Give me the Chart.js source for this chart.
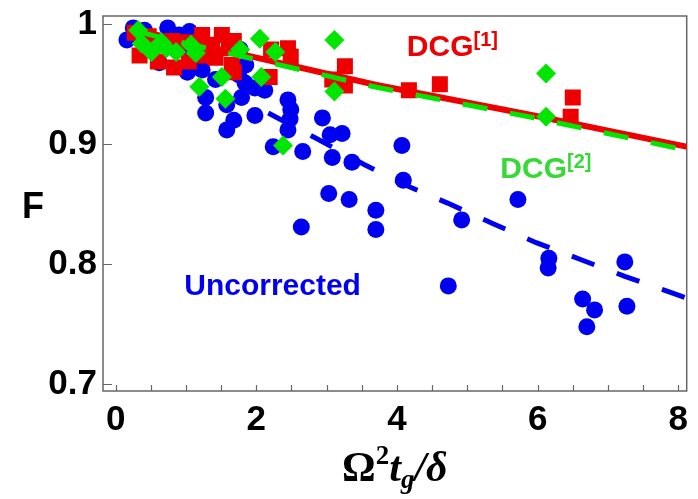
<!DOCTYPE html>
<html>
<head>
<meta charset="utf-8">
<script src="https://cdn.jsdelivr.net/npm/chart.js"></script>
<style>
  html, body { margin: 0; padding: 0; background: #ffffff; }
  #wrap { width: 698px; height: 499px; }
</style>
</head>
<body>
<div id="wrap"><canvas id="fidelityChart" width="698" height="499"></canvas></div>
<script>
// values: x = Omega^2 t_g / delta, y = fidelity F
const uncorrectedX = [0.16, 0.25, 0.34, 0.41, 0.48, 0.62, 0.74, 0.90, 0.97, 1.02, 1.05, 1.09, 1.19, 1.23,
    1.40, 1.42, 1.75, 1.77, 1.84, 1.85, 1.28, 1.28, 1.58, 1.58, 1.68, 1.98, 1.98, 1.79, 2.12, 2.45,
    2.48, 2.49, 2.45, 2.24, 2.66, 2.94, 3.05, 3.22, 3.08, 3.36, 4.07, 4.09, 3.03, 3.32, 3.70, 3.70,
    2.64, 4.92, 5.72, 4.73, 6.16, 6.15, 7.24, 6.64, 6.81, 6.70, 7.27];
const uncorrectedF = [0.987, 0.997, 0.991, 0.995, 0.979, 0.968, 0.997, 0.991, 0.979, 0.960, 0.994, 0.964, 0.987, 0.962,
    0.974, 0.954, 0.958, 0.979, 0.951, 0.966, 0.926, 0.939, 0.933, 0.912, 0.920, 0.924, 0.947, 0.939, 0.945, 0.937,
    0.921, 0.929, 0.912, 0.898, 0.894, 0.922, 0.908, 0.909, 0.889, 0.885, 0.899, 0.870, 0.859, 0.854, 0.845, 0.829,
    0.831, 0.837, 0.854, 0.782, 0.805, 0.797, 0.802, 0.771, 0.762, 0.748, 0.765];

const dcg1X = [0.27, 0.34, 0.47, 0.60, 0.81, 0.83, 1.03, 1.04, 1.23, 1.37, 1.51, 1.42, 1.23, 1.61, 1.65, 1.68,
    1.68, 2.21, 2.19, 2.45, 2.49, 3.26, 3.08, 3.26, 4.17, 4.61, 6.50, 6.47];
const dcg1F = [0.993, 0.974, 0.990, 0.969, 0.986, 0.964, 0.985, 0.969, 0.991, 0.983, 0.991, 0.972, 0.974, 0.980, 0.966, 0.960,
    0.986, 0.979, 0.956, 0.980, 0.973, 0.965, 0.954, 0.949, 0.945, 0.950, 0.939, 0.923];

const dcg2X = [0.32, 0.37, 0.51, 0.65, 0.72, 0.86, 1.07, 1.14, 1.19, 1.51, 1.56, 1.77, 2.05, 2.27, 2.07, 2.38,
    3.11, 3.11, 6.12, 6.12];
const dcg2F = [0.995, 0.984, 0.977, 0.985, 0.980, 0.977, 0.983, 0.976, 0.948, 0.956, 0.938, 0.979, 0.988, 0.977, 0.956, 0.899,
    0.987, 0.944, 0.959, 0.923];

// fitted curves, sampled where they show in the figure
const dcg1FitX = [0.3, 1.0, 3.71, 5.91, 8.2];
const dcg1FitF = [0.995, 0.9855, 0.9494, 0.9244, 0.897];
const dcg2FitX = [0.3, 1.0, 3.71, 5.91, 8.2];
const dcg2FitF = [0.994, 0.984, 0.9475, 0.9225, 0.894];
const uncorrectedFitX = [2.17, 2.85, 3.54, 4.12, 4.72, 5.36, 5.98, 6.61, 7.24, 7.87, 8.2];
const uncorrectedFitF = [0.926, 0.905, 0.883, 0.866, 0.851, 0.834, 0.818, 0.804, 0.790, 0.777, 0.770];

const xTicks = [0, 0.5, 1, 1.5, 2, 2.5, 3, 3.5, 4, 4.5, 5, 5.5, 6, 6.5, 7, 7.5, 8];
const xTickLabels = [0, 2, 4, 6, 8];
const yTicks = [0.7, 0.8, 0.9, 1];

const BLUE = "#0000f0";
const RED = "#ee0000";
const GREEN = "#00e600";
const SANS = "'Liberation Sans', Arial, Helvetica, sans-serif";
const SERIF = "'Liberation Serif', 'Times New Roman', serif";

function toPoints(xs, ys) {
    return xs.map(function (x, i) { return { x: x, y: ys[i] }; });
}

function textRuns(ctx, runs, x, y) {
    let cx = x;
    runs.forEach(function (r) {
        ctx.font = r.font;
        ctx.fillText(r.text, cx, y + (r.dy || 0));
        cx += ctx.measureText(r.text).width;
    });
}

function runsWidth(ctx, runs) {
    let w = 0;
    runs.forEach(function (r) {
        ctx.font = r.font;
        w += ctx.measureText(r.text).width;
    });
    return w;
}

// frame with inward ticks, like the original plot
const frameTicks = {
    id: "frameTicks",
    beforeDatasetsDraw(chart) {
        const { ctx, chartArea: a, scales } = chart;
        ctx.save();
        ctx.strokeStyle = "#666";
        ctx.lineWidth = 1.5;
        ctx.strokeRect(a.left, a.top, a.right - a.left, a.bottom - a.top);
        ctx.lineWidth = 1.2;
        ctx.beginPath();
        xTicks.forEach(function (v) {
            const px = Math.round(scales.x.getPixelForValue(v)) + 0.5;
            ctx.moveTo(px, a.bottom);
            ctx.lineTo(px, a.bottom - 6);
        });
        yTicks.forEach(function (v) {
            const py = Math.round(scales.y.getPixelForValue(v)) + 0.5;
            ctx.moveTo(a.left, py);
            ctx.lineTo(a.left + 9, py);
        });
        ctx.stroke();
        ctx.restore();
    }
};

// labels in the plot, axis titles with super/subscripts
const labels = {
    id: "labels",
    afterDraw(chart) {
        const { ctx, chartArea: a, scales } = chart;
        const xs = scales.x, ys = scales.y;
        ctx.save();
        ctx.textBaseline = "alphabetic";
        ctx.textAlign = "left";

        ctx.fillStyle = "#000";
        ctx.font = "bold 36px " + SANS;
        ctx.fillText("F", 22, 218);

        ctx.fillStyle = RED;
        textRuns(ctx, [
            { text: "DCG", font: "bold 30px " + SANS },
            { text: "[1]", font: "bold 20px " + SANS, dy: -10 }
        ], xs.getPixelForValue(4.14), ys.getPixelForValue(0.9736));

        ctx.fillStyle = "#38d838";
        textRuns(ctx, [
            { text: "DCG", font: "bold 30px " + SANS },
            { text: "[2]", font: "bold 20px " + SANS, dy: -10 }
        ], xs.getPixelForValue(5.47), ys.getPixelForValue(0.872));

        ctx.fillStyle = BLUE;
        ctx.font = "bold 30px " + SANS;
        ctx.fillText("Uncorrected", xs.getPixelForValue(0.975), ys.getPixelForValue(0.7744));

        ctx.fillStyle = "#000";
        const title = [
            { text: "\u03A9", font: "bold 42px " + SERIF },
            { text: "2", font: "bold 27px " + SERIF, dy: -17 },
            { text: "t", font: "italic bold 42px " + SERIF },
            { text: "g", font: "italic bold 27px " + SERIF, dy: 7 },
            { text: "/", font: "italic bold 42px " + SERIF },
            { text: "\u03B4", font: "italic bold 42px " + SERIF }
        ];
        const w = runsWidth(ctx, title);
        textRuns(ctx, title, (a.left + a.right) / 2 - w / 2, 481);
        ctx.restore();
    }
};

new Chart(document.getElementById("fidelityChart").getContext("2d"), {
    type: "scatter",
    data: {
        datasets: [
            {
                label: "DCG[2] fit",
                data: toPoints(dcg2FitX, dcg2FitF),
                showLine: true,
                borderColor: GREEN,
                borderWidth: 5,
                borderDash: [25, 23],
                borderDashOffset: 2,
                pointRadius: 0,
                pointHoverRadius: 0,
                order: 1,
            },
            {
                label: "DCG[2]",
                data: toPoints(dcg2X, dcg2F),
                pointStyle: "rectRot",
                pointRadius: 10,
                pointHoverRadius: 10,
                backgroundColor: GREEN,
                borderColor: GREEN,
                pointBorderWidth: 0,
                order: 2,
            },
            {
                label: "DCG[1] fit",
                data: toPoints(dcg1FitX, dcg1FitF),
                showLine: true,
                borderColor: RED,
                borderWidth: 6,
                pointRadius: 0,
                pointHoverRadius: 0,
                order: 3,
            },
            {
                label: "DCG[1]",
                data: toPoints(dcg1X, dcg1F),
                pointStyle: "rect",
                pointRadius: 11.3,
                pointHoverRadius: 11.3,
                backgroundColor: RED,
                borderColor: RED,
                pointBorderWidth: 0,
                order: 4,
            },
            {
                label: "Uncorrected fit",
                data: toPoints(uncorrectedFitX, uncorrectedFitF),
                showLine: true,
                borderColor: BLUE,
                borderWidth: 5,
                borderDash: [24, 24],
                pointRadius: 0,
                pointHoverRadius: 0,
                order: 5,
            },
            {
                label: "Uncorrected",
                data: toPoints(uncorrectedX, uncorrectedF),
                pointStyle: "circle",
                pointRadius: 8.5,
                pointHoverRadius: 8.5,
                backgroundColor: BLUE,
                borderColor: BLUE,
                pointBorderWidth: 0,
                order: 6,
            },
        ],
    },
    options: {
        responsive: false,
        animation: false,
        events: [],
        layout: { padding: { top: 16, right: 5, left: 0, bottom: 0 } },
        plugins: {
            legend: { display: false },
            tooltip: { enabled: false },
        },
        scales: {
            x: {
                type: "linear",
                min: -0.18,
                max: 8.12,
                afterBuildTicks: function (scale) {
                    scale.ticks = xTicks.map(function (v) { return { value: v }; });
                },
                afterFit: function (scale) {
                    scale.height = 108;
                    scale.paddingLeft = 0;
                    scale.paddingRight = 0;
                },
                grid: { display: false, drawTicks: false },
                border: { display: false },
                ticks: {
                    autoSkip: false,
                    maxRotation: 0,
                    padding: 8,
                    color: "#000",
                    font: { family: SANS, size: 35, weight: "bold" },
                    callback: function (v) {
                        return xTickLabels.indexOf(v) >= 0 ? String(v) : "";
                    },
                },
            },
            y: {
                type: "linear",
                min: 0.6944,
                max: 1.0069,
                afterBuildTicks: function (scale) {
                    scale.ticks = yTicks.map(function (v) { return { value: v }; });
                },
                afterFit: function (scale) {
                    scale.width = 103;
                    scale.paddingTop = 0;
                    scale.paddingBottom = 0;
                },
                grid: { display: false, drawTicks: false },
                border: { display: false },
                ticks: {
                    padding: 6,
                    color: "#000",
                    font: { family: SANS, size: 35, weight: "bold" },
                    callback: function (v) {
                        return v === 1 ? "1" : v.toFixed(1);
                    },
                },
            },
        },
    },
    plugins: [frameTicks, labels],
});
</script>
</body>
</html>
